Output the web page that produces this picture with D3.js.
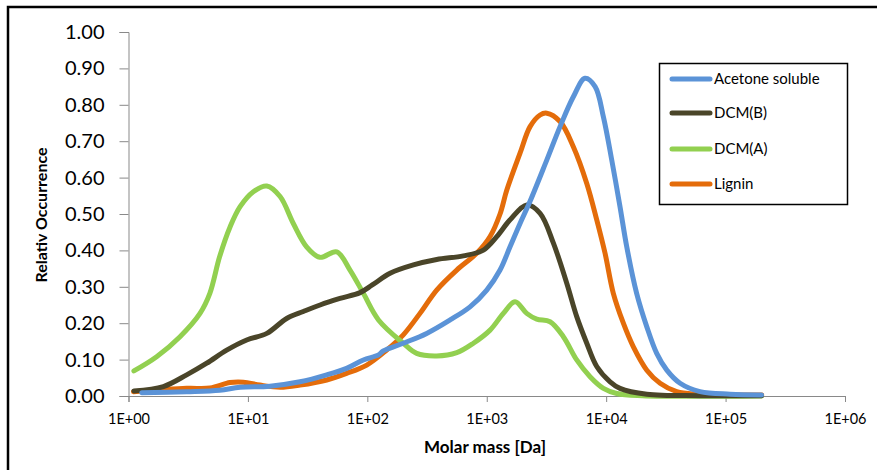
<!DOCTYPE html>
<html><head><meta charset="utf-8">
<script src="https://cdn.jsdelivr.net/npm/d3@7"></script>
<style>
body{margin:0;background:#fff;}
svg{display:block;font-family:Lato,"Open Sans",sans-serif;}
</style></head>
<body><svg id="c" width="877" height="470"></svg>
<script>
// ---- data (molar mass in Da, relative occurrence) ----
const seriesNames = ["Acetone soluble", "DCM(B)", "DCM(A)", "Lignin"];
const seriesColors = ["#5B93D7", "#4A4529", "#92D050", "#E46C0A"];

const acetoneMass = [1.29, 3.07, 5.8, 8.6, 15.3, 27.3, 45.7, 67, 92.6, 124, 136, 200, 314, 493, 724, 1000, 1292, 1567, 1900, 2305, 3180, 4110, 5310, 6650, 8080, 9480, 11140, 13060, 14870, 18000, 21900, 26500, 32200, 41600, 61100, 109000, 200000];
const acetoneVal  = [0.009, 0.012, 0.016, 0.024, 0.027, 0.039, 0.058, 0.076, 0.099, 0.113, 0.124, 0.145, 0.172, 0.209, 0.245, 0.291, 0.346, 0.41, 0.474, 0.535, 0.648, 0.74, 0.822, 0.873, 0.85, 0.767, 0.648, 0.52, 0.41, 0.282, 0.19, 0.117, 0.071, 0.035, 0.012, 0.005, 0.003];

const dcmBMass = [1.11, 1.96, 3.07, 4.52, 6.64, 9.77, 14.4, 21.1, 29.1, 40.2, 59, 86.9, 110, 155, 243, 381, 637, 937, 1213, 1567, 2162, 2797, 3616, 4677, 5670, 6880, 8340, 10790, 13060, 21900, 61000, 200000];
const dcmBVal  = [0.014, 0.026, 0.058, 0.09, 0.126, 0.154, 0.172, 0.213, 0.232, 0.25, 0.268, 0.284, 0.305, 0.337, 0.36, 0.375, 0.385, 0.401, 0.438, 0.484, 0.525, 0.502, 0.42, 0.31, 0.218, 0.145, 0.081, 0.039, 0.021, 0.005, 0.001, 0.001];

const dcmAMass = [1.11, 1.72, 2.7, 3.97, 4.8, 5.8, 7.1, 8.6, 11.1, 14.4, 18.6, 24, 31, 40, 55.4, 71.6, 92.6, 124, 200, 259, 381, 561, 773, 1066, 1377, 1726, 2162, 2622, 3390, 4380, 5670, 7330, 9480, 12270, 20000, 200000];
const dcmAVal  = [0.069, 0.108, 0.163, 0.227, 0.282, 0.383, 0.465, 0.52, 0.561, 0.577, 0.548, 0.474, 0.41, 0.381, 0.396, 0.346, 0.282, 0.209, 0.145, 0.117, 0.11, 0.119, 0.145, 0.181, 0.227, 0.259, 0.227, 0.211, 0.204, 0.163, 0.099, 0.053, 0.021, 0.007, 0.001, 0.0];

const ligninMass = [1.1, 3.07, 4.82, 7.08, 9.15, 12.6, 18.6, 27.3, 45.7, 67, 98.9, 145, 200, 276, 381, 561, 824, 1066, 1292, 1470, 1900, 2305, 2795, 3180, 4110, 5310, 6880, 8340, 9790, 11480, 13930, 16900, 21900, 28300, 39000, 57400, 201000];
const ligninVal  = [0.012, 0.021, 0.022, 0.037, 0.038, 0.03, 0.024, 0.03, 0.044, 0.062, 0.085, 0.126, 0.168, 0.227, 0.291, 0.346, 0.392, 0.438, 0.5, 0.565, 0.667, 0.74, 0.772, 0.777, 0.754, 0.685, 0.584, 0.484, 0.392, 0.282, 0.2, 0.135, 0.071, 0.035, 0.012, 0.005, 0.003];

const xTickValues = [1, 10, 100, 1000, 10000, 100000, 1000000];
const xTickLabels = ["1E+00", "1E+01", "1E+02", "1E+03", "1E+04", "1E+05", "1E+06"];
const yTickValues = [0, 0.1, 0.2, 0.3, 0.4, 0.5, 0.6, 0.7, 0.8, 0.9, 1.0];

const series = [
  {name: seriesNames[0], color: seriesColors[0], mass: acetoneMass, val: acetoneVal},
  {name: seriesNames[1], color: seriesColors[1], mass: dcmBMass, val: dcmBVal},
  {name: seriesNames[2], color: seriesColors[2], mass: dcmAMass, val: dcmAVal},
  {name: seriesNames[3], color: seriesColors[3], mass: ligninMass, val: ligninVal}
];

// ---- layout ----
const svg = d3.select("#c");
const x = d3.scaleLog().domain([1, 1e6]).range([128.5, 845]);
const y = d3.scaleLinear().domain([0, 1]).range([396, 32]);
const axisColor = "#898989";

// outer frame (left & top visible)
svg.append("rect").attr("x", 8).attr("y", 7).attr("width", 900).attr("height", 500)
  .attr("fill", "none").attr("stroke", "#000").attr("stroke-width", 2.5);

// y axis
const gy = svg.append("g").attr("transform", "translate(128.5,0)")
  .call(d3.axisLeft(y).tickValues(yTickValues).tickFormat(d3.format(".2f")).tickSizeOuter(0).tickSize(9).tickPadding(15));
gy.select(".domain").attr("stroke", axisColor);
gy.selectAll(".tick line").attr("stroke", axisColor);
gy.selectAll(".tick text").attr("font-size", 20).attr("fill", "#000").attr("font-family", "Lato, sans-serif");

// x axis
const gx = svg.append("g").attr("transform", "translate(0,396)")
  .call(d3.axisBottom(x).tickValues(xTickValues).tickFormat((d, i) => xTickLabels[i]).tickSizeOuter(0).tickSize(6).tickPadding(12));
gx.select(".domain").attr("stroke", axisColor);
gx.selectAll(".tick line").attr("stroke", axisColor);
gx.selectAll(".tick text").attr("font-size", 14.5).attr("fill", "#000").attr("font-family", "Lato, sans-serif");

// axis titles
svg.append("text").attr("x", 485).attr("y", 453).attr("text-anchor", "middle")
  .attr("font-size", 17).attr("font-weight", "bold").text("Molar mass [Da]");
svg.append("text").attr("transform", "translate(47,215) rotate(-90)").attr("text-anchor", "middle")
  .attr("font-size", 16).attr("font-weight", "bold").text("Relativ Occurrence");

// lines
const line = d3.line().x(d => x(d[0])).y(d => y(d[1])).curve(d3.curveCatmullRom.alpha(0.5));
const drawOrder = [3, 2, 1, 0];
drawOrder.forEach(i => {
  const s = series[i];
  const pts = s.mass.map((m, k) => [m, s.val[k]]);
  svg.append("path").datum(pts).attr("d", line)
    .attr("fill", "none").attr("stroke", s.color).attr("stroke-width", 5)
    .attr("stroke-linejoin", "round").attr("stroke-linecap", "round");
});

// legend
svg.append("rect").attr("x", 659.5).attr("y", 63.5).attr("width", 188).attr("height", 141)
  .attr("fill", "#fff").attr("stroke", "#000").attr("stroke-width", 1.5);
const legendY = [79, 113, 149, 184];
series.forEach((s, i) => {
  svg.append("line").attr("x1", 672).attr("x2", 710).attr("y1", legendY[i]).attr("y2", legendY[i])
    .attr("stroke", s.color).attr("stroke-width", 5).attr("stroke-linecap", "round");
  svg.append("text").attr("x", 714).attr("y", legendY[i] + 5).attr("font-size", 15).attr("fill", "#000").text(s.name);
});
</script></body></html>
